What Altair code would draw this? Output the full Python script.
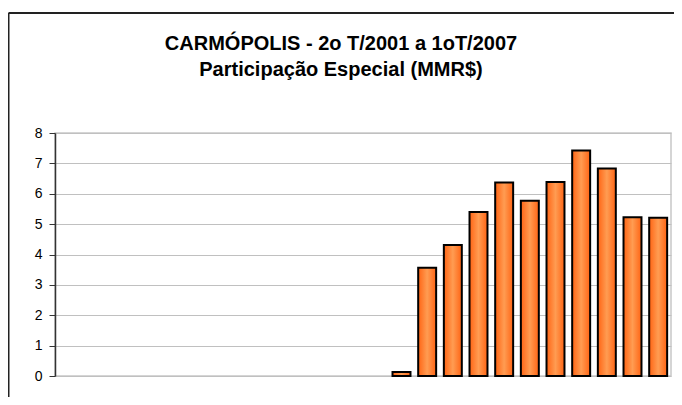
import altair as alt
import pandas as pd

quarters = [
    "2T/2001", "3T/2001", "4T/2001",
    "1T/2002", "2T/2002", "3T/2002", "4T/2002",
    "1T/2003", "2T/2003", "3T/2003", "4T/2003",
    "1T/2004", "2T/2004", "3T/2004", "4T/2004",
    "1T/2005", "2T/2005", "3T/2005", "4T/2005",
    "1T/2006", "2T/2006", "3T/2006", "4T/2006",
    "1T/2007",
]
values = [
    None, None, None,
    None, None, None, None,
    None, None, None, None,
    None, None, 0.13, 3.56,
    4.31, 5.40, 6.37, 5.77,
    6.39, 7.42, 6.83, 5.23,
    5.21,
]
y_ticks = [0, 1, 2, 3, 4, 5, 6, 7, 8]
title_line1 = "CARMÓPOLIS - 2o T/2001 a 1oT/2007"
title_line2 = "Participação Especial (MMR$)"

df = pd.DataFrame({"trimestre": quarters, "valor": values})
one = pd.DataFrame({"k": [0]})

FONT = "Liberation Sans"

gradient = alt.Gradient(
    gradient="linear",
    x1=0, x2=1, y1=0, y2=0,
    stops=[
        alt.GradientStop(color="#FF6414", offset=0),
        alt.GradientStop(color="#FF9C52", offset=0.5),
        alt.GradientStop(color="#FF6414", offset=1),
    ],
)

bars = alt.Chart(df).mark_bar(
    color=gradient, stroke="#000000", strokeWidth=2
).encode(
    x=alt.X("trimestre:N", sort=quarters,
            scale=alt.Scale(domain=quarters, paddingInner=0.3, paddingOuter=0.15),
            axis=None),
    y=alt.Y("valor:Q",
            scale=alt.Scale(domain=[0, 8], nice=False),
            axis=alt.Axis(values=y_ticks, title=None, grid=True,
                          gridColor="#C0C0C0", gridWidth=1,
                          domainColor="#333333", domainWidth=1.5,
                          tickColor="#333333", tickSize=6, tickWidth=1,
                          labelFont=FONT, labelFontSize=14, labelColor="#000000",
                          labelPadding=7)),
)

frame_left = alt.Chart(one).mark_rule(color="#222222", strokeWidth=2).encode(
    x=alt.value(-46.5), y=alt.value(-120), y2=alt.value(400)
)
frame_top = alt.Chart(one).mark_rule(color="#222222", strokeWidth=2).encode(
    x=alt.value(-46.5), x2=alt.value(700), y=alt.value(-120)
)

title_style = dict(font=FONT, fontSize=20, fontWeight="bold", color="#000000",
                   align="center", baseline="alphabetic")
title1 = alt.Chart(one).mark_text(**title_style).encode(
    x=alt.value(286), y=alt.value(-83), text=alt.value(title_line1)
)
title2 = alt.Chart(one).mark_text(**title_style).encode(
    x=alt.value(286), y=alt.value(-57), text=alt.value(title_line2)
)

chart = alt.layer(bars, frame_left, frame_top, title1, title2).properties(
    width=616,
    height=243,
    autosize=alt.AutoSizeParams(type="none"),
    padding={"left": 47, "top": 125, "right": 3, "bottom": 21},
).configure_view(stroke="#C8C8C8", strokeWidth=1.5)

chart.save("out.html", embed_options={"renderer": "svg", "actions": False})
